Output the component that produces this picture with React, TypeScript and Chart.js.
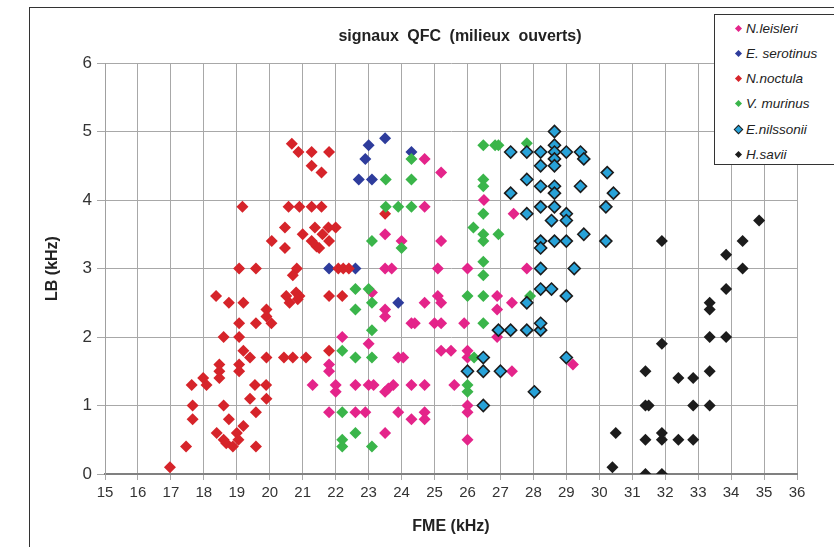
import React, { useEffect, useRef } from "react";
import { Chart, registerables } from "chart.js";

Chart.register(...registerables);

const chartTitle = "signaux QFC (milieux ouverts)";
const xTitle = "FME (kHz)";
const yTitle = "LB (kHz)";
const xMin = 15;
const xMax = 36;
const yMin = 0;
const yMax = 6;

const seriesNames = ["N.leisleri", "E. serotinus", "N.noctula", "V. murinus", "E.nilssonii", "H.savii"];

const nLeisleri: [number, number][] = [
  [24.7, 4.6], [25.2, 4.4], [24.7, 3.9], [26.5, 4.0], [27.4, 3.8], [25.2, 3.4], [23.5, 3.5], [24.0, 3.4],
  [23.5, 3.0], [23.7, 3.0], [25.1, 3.0], [26.0, 3.0], [27.8, 3.0],
  [25.1, 2.6], [25.2, 2.5], [24.7, 2.5], [23.5, 2.4], [23.5, 2.3], [23.1, 2.65], [24.3, 2.2], [24.4, 2.2],
  [25.0, 2.2], [25.2, 2.2], [25.9, 2.2], [22.2, 2.0], [23.0, 1.9], [25.2, 1.8], [25.5, 1.8], [26.0, 1.8],
  [26.0, 1.7], [21.8, 1.6], [21.8, 1.5], [23.9, 1.7], [24.05, 1.7], [21.3, 1.3], [22.0, 1.3], [22.0, 1.2],
  [22.6, 1.3], [23.0, 1.3], [23.15, 1.3], [23.75, 1.3], [23.6, 1.25], [23.5, 1.2], [24.3, 1.3], [24.7, 1.3],
  [25.6, 1.3], [21.8, 0.9], [22.6, 0.9], [22.9, 0.9], [23.9, 0.9], [24.3, 0.8], [24.7, 0.9], [24.7, 0.8],
  [23.5, 0.6], [26.0, 1.0], [26.0, 0.9], [26.0, 0.5],
  [26.9, 2.6], [27.35, 2.5], [26.9, 2.4], [26.9, 2.0], [27.35, 1.5], [29.2, 1.6],
];

const eSerotinus: [number, number][] = [
  [23.5, 4.9], [23.0, 4.8], [22.9, 4.6], [24.3, 4.7], [22.7, 4.3], [23.1, 4.3], [21.8, 3.0], [22.6, 3.0], [23.9, 2.5],
];

const nNoctula: [number, number][] = [
  [20.67, 4.82], [20.87, 4.7], [21.27, 4.7], [21.8, 4.7], [21.27, 4.5], [21.57, 4.4],
  [19.17, 3.9], [20.57, 3.9], [20.9, 3.9], [21.27, 3.9], [21.57, 3.9],
  [20.46, 3.6], [21.37, 3.6], [21.78, 3.6], [22.0, 3.6], [21.0, 3.5], [21.6, 3.5], [20.06, 3.4], [21.27, 3.4],
  [21.8, 3.4], [21.42, 3.32], [20.46, 3.3], [21.5, 3.3],
  [19.07, 3.0], [19.58, 3.0], [20.82, 3.0], [20.7, 2.9], [22.08, 3.0], [22.23, 3.0], [22.4, 3.0], [23.5, 3.8],
  [18.37, 2.6], [18.76, 2.5], [19.2, 2.5], [20.5, 2.6], [20.8, 2.65], [20.9, 2.6], [20.6, 2.5], [20.85, 2.55],
  [21.8, 2.6], [22.2, 2.6],
  [19.9, 2.4], [19.9, 2.3], [20.05, 2.2], [19.07, 2.2], [19.58, 2.2], [18.6, 2.0], [19.07, 2.0], [19.2, 1.8],
  [19.4, 1.7], [19.9, 1.7], [20.43, 1.7], [20.7, 1.7], [21.1, 1.7], [21.8, 1.8],
  [18.47, 1.6], [18.47, 1.5], [18.47, 1.4], [19.07, 1.6], [19.07, 1.5], [17.63, 1.3], [17.98, 1.4], [18.08, 1.3],
  [19.55, 1.3], [19.89, 1.3], [19.4, 1.1], [19.9, 1.1], [17.66, 1.0], [18.6, 1.0], [17.66, 0.8], [19.58, 0.9],
  [18.76, 0.8], [18.39, 0.6], [18.6, 0.5], [18.68, 0.45], [19.0, 0.6], [19.2, 0.7], [19.05, 0.5], [18.88, 0.4],
  [19.58, 0.4], [17.46, 0.4], [16.97, 0.1],
];

const vMurinus: [number, number][] = [
  [23.52, 4.3], [24.3, 4.6], [24.3, 4.3], [23.52, 3.9], [23.9, 3.9], [24.3, 3.9], [23.1, 3.4], [24.0, 3.3],
  [26.18, 3.6], [26.48, 4.8], [26.84, 4.8], [26.94, 4.8], [27.8, 4.83], [26.48, 4.3], [26.48, 4.2], [26.48, 3.8],
  [26.48, 3.5], [26.94, 3.5], [26.48, 3.4], [26.48, 3.1], [26.48, 2.9],
  [22.6, 2.7], [23.0, 2.7], [23.1, 2.5], [22.6, 2.4], [23.1, 2.1], [26.0, 2.6], [26.48, 2.6], [27.9, 2.6],
  [26.48, 2.2], [22.2, 1.8], [22.6, 1.7], [23.1, 1.7], [26.2, 1.7], [26.0, 1.3], [26.0, 1.2], [22.2, 0.9],
  [22.6, 0.6], [22.2, 0.5], [22.2, 0.4], [23.1, 0.4],
];

const eNilssonii: [number, number][] = [
  [28.64, 5.0], [28.64, 4.8], [28.64, 4.7], [28.64, 4.6], [27.31, 4.7], [27.8, 4.7], [28.22, 4.7], [29.0, 4.7],
  [29.43, 4.7], [29.53, 4.6], [28.22, 4.5], [28.64, 4.5], [30.24, 4.4], [27.8, 4.3], [28.22, 4.2], [28.64, 4.2],
  [29.43, 4.2], [27.31, 4.1], [28.64, 4.1], [30.43, 4.1], [28.22, 3.9], [28.64, 3.9], [30.2, 3.9], [29.0, 3.8],
  [29.0, 3.7], [27.8, 3.8], [28.55, 3.7], [29.53, 3.5], [28.22, 3.4], [28.22, 3.3], [28.64, 3.4], [29.0, 3.4],
  [30.2, 3.4], [28.22, 3.0], [29.24, 3.0], [28.22, 2.7], [28.55, 2.7], [29.0, 2.6], [27.8, 2.5], [26.94, 2.1],
  [27.31, 2.1], [27.8, 2.1], [28.22, 2.1], [28.22, 2.2], [26.48, 1.7], [26.0, 1.5], [26.48, 1.5], [27.0, 1.5],
  [29.0, 1.7], [28.03, 1.2], [26.48, 1.0],
];

const hSavii: [number, number][] = [
  [30.4, 0.1], [30.5, 0.6], [31.4, 0.0], [31.9, 0.0], [31.4, 0.5], [31.9, 0.5], [31.9, 0.6], [32.4, 0.5],
  [32.85, 0.5], [31.4, 1.0], [31.5, 1.0], [32.85, 1.0], [33.35, 1.0], [31.4, 1.5], [32.4, 1.4], [32.85, 1.4],
  [33.35, 1.5], [31.9, 1.9], [33.35, 2.0], [33.85, 2.0], [33.35, 2.4], [33.35, 2.5], [33.85, 2.7], [34.35, 3.0],
  [33.85, 3.2], [34.35, 3.4], [31.9, 3.4], [34.85, 3.7],
];

const seriesData = [nLeisleri, eSerotinus, nNoctula, vMurinus, eNilssonii, hSavii];
const fillColors = ["#E4248A", "#2E3C9C", "#D6242A", "#3AB54A", "#28A2D8", "#1C1C1C"];
const edgeColors = ["#E4248A", "#2E3C9C", "#D6242A", "#3AB54A", "#1C1C1C", "#1C1C1C"];
const edgeWidths = [0, 0, 0, 0, 1.6, 0];
const drawOrder = [6, 5, 4, 3, 2, 1];

const tickFont = "'Liberation Sans', Arial, sans-serif";
const textFont = "'Liberation Sans', Arial, sans-serif";

export default function App() {
  const canvasRef = useRef<HTMLCanvasElement | null>(null);

  useEffect(() => {
    const canvas = canvasRef.current;
    if (!canvas) return;
    const chart = new Chart(canvas, {
      type: "scatter",
      data: {
        datasets: seriesNames.map((name, i) => ({
          label: name,
          data: seriesData[i].map(([x, y]) => ({ x, y })),
          pointStyle: "rectRot",
          pointRadius: 6,
          backgroundColor: fillColors[i],
          borderColor: edgeColors[i],
          borderWidth: edgeWidths[i],
          order: drawOrder[i],
        })),
      },
      options: {
        animation: false,
        responsive: false,
        devicePixelRatio: 1,
        layout: { padding: { left: 30, top: 63, right: 37, bottom: 0 } },
        plugins: {
          legend: { display: false },
          tooltip: { enabled: false },
          title: { display: false },
        },
        scales: {
          x: {
            type: "linear",
            min: xMin,
            max: xMax,
            ticks: {
              stepSize: 1,
              color: "#333",
              font: { family: tickFont, size: 15 },
              padding: 4,
            },
            grid: { color: "#A8A8A8", lineWidth: 1, tickLength: 6, tickColor: "#A8A8A8" },
            border: { color: "#808080", width: 2 },
            title: {
              display: true,
              text: xTitle,
              color: "#222",
              font: { family: tickFont, size: 16, weight: "bold" },
              padding: { top: 0, bottom: 11 },
            },
            afterFit: (s: any) => {
              s.height = 73;
            },
          },
          y: {
            type: "linear",
            min: yMin,
            max: yMax,
            ticks: {
              stepSize: 1,
              color: "#333",
              font: { family: tickFont, size: 17 },
              padding: 5,
            },
            grid: { color: "#A8A8A8", lineWidth: 1, tickLength: 8, tickColor: "#A8A8A8" },
            border: { color: "#A0A0A0", width: 1 },
            title: {
              display: true,
              text: yTitle,
              color: "#222",
              font: { family: tickFont, size: 16, weight: "bold" },
              padding: { top: 13, bottom: 0 },
            },
            afterFit: (s: any) => {
              s.width = 75;
            },
          },
        },
      },
    });
    return () => chart.destroy();
  }, []);

  return (
    <div style={{ position: "fixed", left: 0, top: 0, width: 834, height: 547, background: "#fff", overflow: "hidden" }}>
      <canvas ref={canvasRef} width={834} height={547} style={{ position: "absolute", left: 0, top: 0, width: 834, height: 547 }} />
      <div style={{ position: "absolute", left: 29, top: 7, width: 820, height: 0, borderTop: "1.5px solid #333" }} />
      <div style={{ position: "absolute", left: 29, top: 7, width: 0, height: 560, borderLeft: "1.5px solid #333" }} />
      <div
        style={{
          position: "absolute",
          left: 0,
          width: 920,
          top: 27,
          textAlign: "center",
          fontFamily: textFont,
          fontWeight: "bold",
          fontSize: 16,
          wordSpacing: 4,
          color: "#222",
          whiteSpace: "nowrap",
        }}
      >
        {chartTitle}
      </div>
      <div
        style={{
          position: "absolute",
          left: 714,
          top: 14,
          width: 140,
          height: 151,
          border: "1px solid #333",
          background: "#fff",
          boxSizing: "border-box",
        }}
      >
        {seriesNames.map((name, i) => (
          <div
            key={name}
            style={{ position: "absolute", left: 21, top: 4 + i * 25.3, height: 18, display: "flex", alignItems: "center", whiteSpace: "nowrap" }}
          >
            <span
              style={{
                display: "inline-block",
                width: 5,
                height: 5,
                background: fillColors[i],
                boxShadow: edgeWidths[i] ? "0 0 0 1px #1C1C1C" : "none",
                transform: "rotate(45deg)",
                marginRight: 5,
              }}
            />
            <span style={{ fontFamily: textFont, fontStyle: "italic", fontSize: 13.5, color: "#222" }}>{name}</span>
          </div>
        ))}
      </div>
    </div>
  );
}
